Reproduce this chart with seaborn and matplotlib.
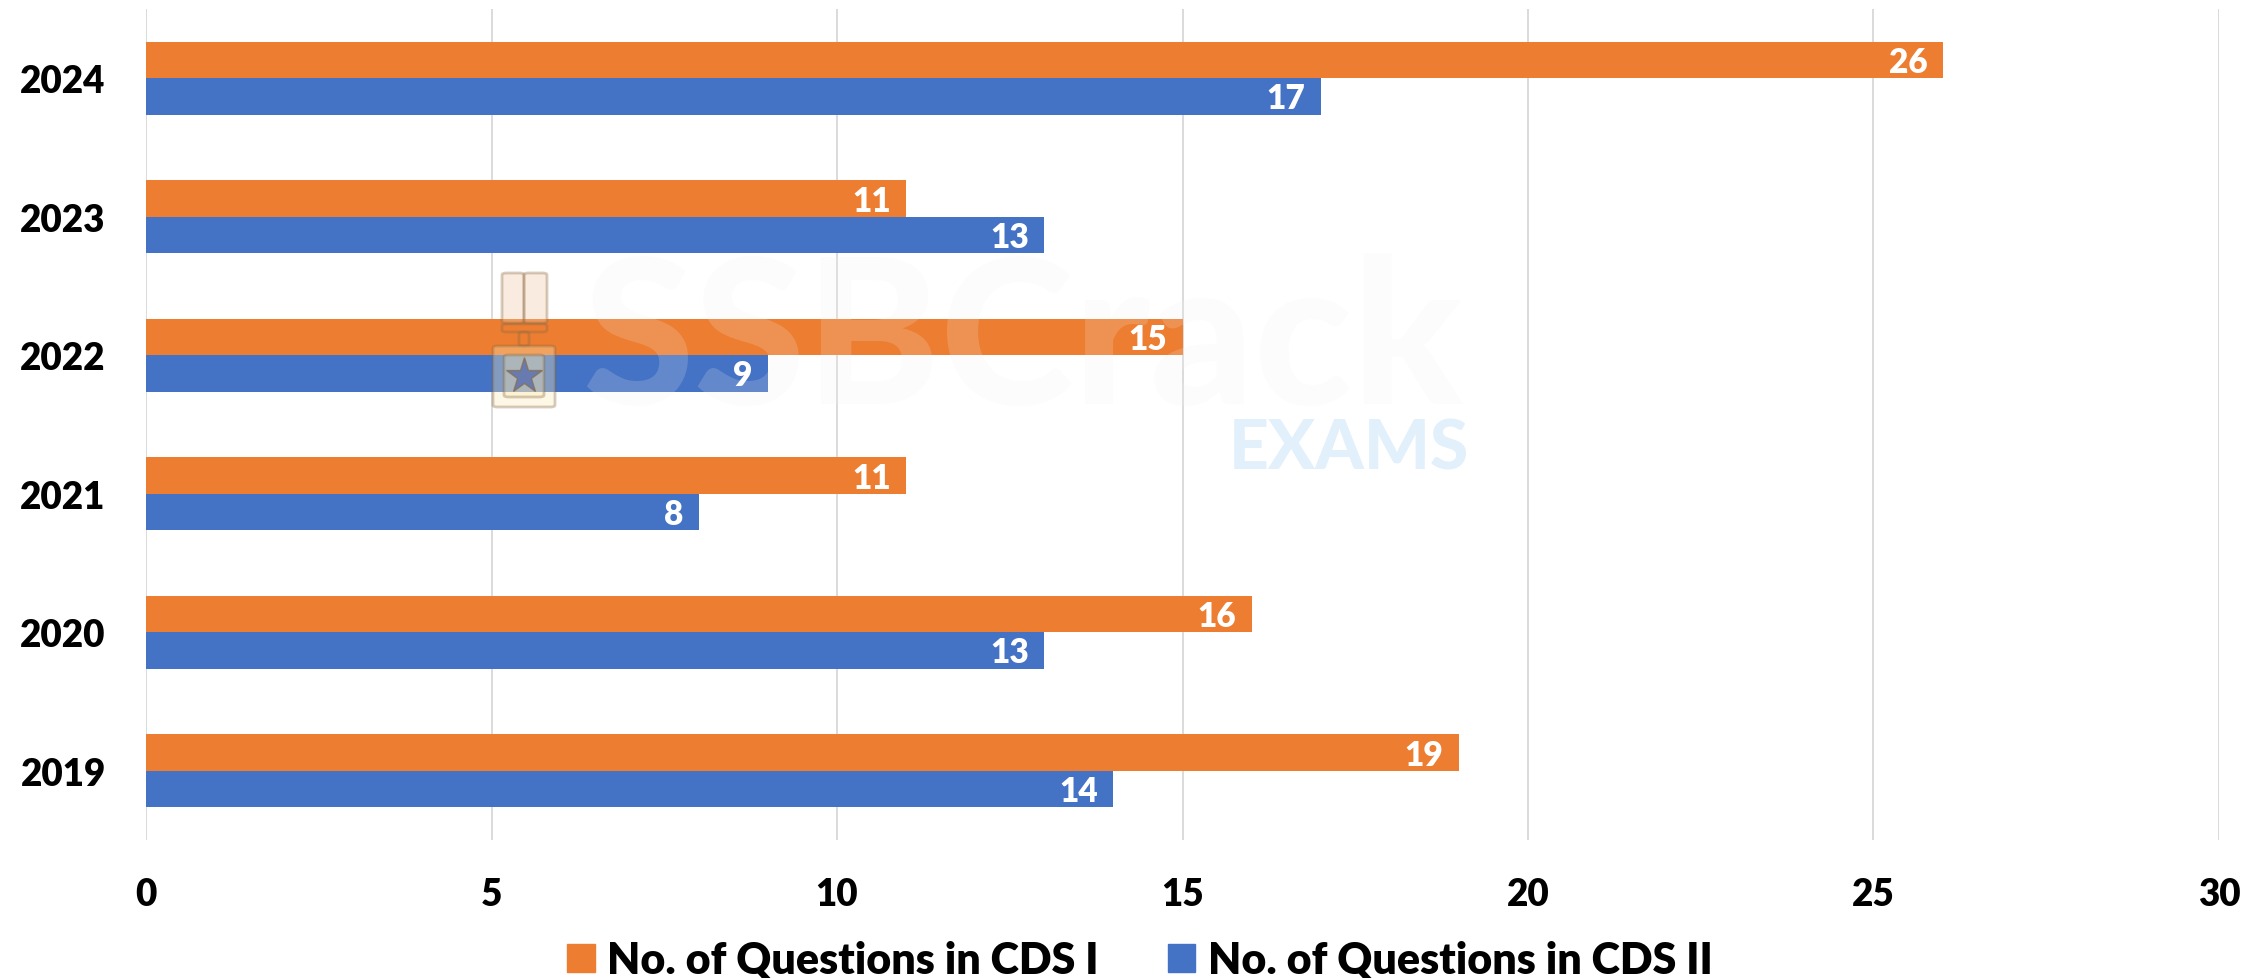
import pandas as pd
import matplotlib.pyplot as plt
from matplotlib.lines import Line2D
from matplotlib.patches import FancyBboxPatch, Rectangle
import seaborn as sns

years = ['2024', '2023', '2022', '2021', '2020', '2019']
cds_1 = [26, 11, 15, 11, 16, 19]
cds_2 = [17, 13, 9, 8, 13, 14]
label_1 = 'No. of Questions in CDS I'
label_2 = 'No. of Questions in CDS II'
x_ticks = [0, 5, 10, 15, 20, 25, 30]

W, H = 2267, 979

sns.set_theme(style='white')
plt.rcParams['font.family'] = ['Lato', 'DejaVu Sans']
plt.rcParams['font.weight'] = 'heavy'

data = pd.DataFrame({
    'year': years * 2,
    'questions': cds_1 + cds_2,
    'series': [label_1] * len(years) + [label_2] * len(years),
})

fig = plt.figure(figsize=(W / 100, H / 100), dpi=100)
ax = fig.add_axes([146 / W, 1 - 841 / H, (2219 - 146) / W, (841 - 10) / H])
ax.set_axisbelow(True)
ax.xaxis.grid(True, color='#d4d4d4', linewidth=1.2)
ax.yaxis.grid(False)

sns.barplot(data=data, y='year', x='questions', hue='series', order=years,
            hue_order=[label_1, label_2], palette=['#ED7D31', '#4472C4'],
            orient='y', width=0.524, gap=0, saturation=1, errorbar=None,
            linewidth=0, legend=False, ax=ax)

ax.set_xlim(0, 30)
ax.set_ylim(5.5, -0.5)
ax.set_xticks(x_ticks)
ax.set_xlabel('')
ax.set_ylabel('')
for side in ax.spines:
    ax.spines[side].set_visible(False)
ax.tick_params(axis='x', length=0, pad=27, labelsize=26.5, labelcolor='black')
ax.tick_params(axis='y', length=0, pad=29, labelsize=26.5, labelcolor='black')
for lbl in ax.get_yticklabels():
    lbl.set_va('center_baseline')

for bars in ax.containers:
    for ann in ax.bar_label(bars, padding=-11, fontsize=24, color='white', fontweight='heavy'):
        ann.set_ha('right')
        ann.xyann = (-11, -1.5)

# legend
handles = [Rectangle((0, 0), 1, 1, color='#ED7D31'), Rectangle((0, 0), 1, 1, color='#4472C4')]
fig.legend(handles, [label_1, label_2], ncol=2, frameon=False, fontsize=31,
           loc='center', bbox_to_anchor=(1140 / W, 1 - 961 / H),
           handlelength=0.63, handleheight=0.63, handletextpad=0.3, columnspacing=1.6,
           labelcolor='black')

# watermark on top of the bars
fig.text(1023 / W, 1 - 346 / H, 'SSBCrack', fontsize=146, fontweight='black', color='#f2f2f2',
         alpha=0.18, ha='center', va='center', zorder=10)
fig.text(1349 / W, 1 - 450 / H, 'EXAMS', fontsize=50, fontweight='black', color='#cfe6fa',
         alpha=0.6, ha='center', va='center', zorder=10)

def px_box(x0, y0, x1, y1):
    return (x0 / W, 1 - y1 / H), (x1 - x0) / W, (y1 - y0) / H

medal = '#8a6a45'
for (x0, y0, x1, y1), face in [((502, 274, 524, 324), '#f0c8a5'),
                               ((524, 274, 547, 324), '#f0c8a5'),
                               ((502, 325, 547, 333), '#ED7D31'),
                               ((519, 333, 529, 347), '#ED7D31'),
                               ((493, 347, 555, 408), '#fbe9b5'),
                               ((504, 356, 544, 398), '#fbe9b5')]:
    xy, w, h = px_box(x0, y0, x1, y1)
    fig.add_artist(FancyBboxPatch(xy, w, h, boxstyle='round,pad=0,rounding_size=0.002',
                                  transform=fig.transFigure, facecolor=face,
                                  edgecolor=medal, linewidth=2, alpha=0.35, zorder=10))
fig.add_artist(Line2D([524 / W], [1 - 377 / H], marker='*', markersize=27,
                      markerfacecolor='#4a62ad', markeredgecolor=medal, markeredgewidth=1,
                      alpha=0.7, zorder=10, transform=fig.transFigure))

fig.savefig('out.png', dpi=100)
